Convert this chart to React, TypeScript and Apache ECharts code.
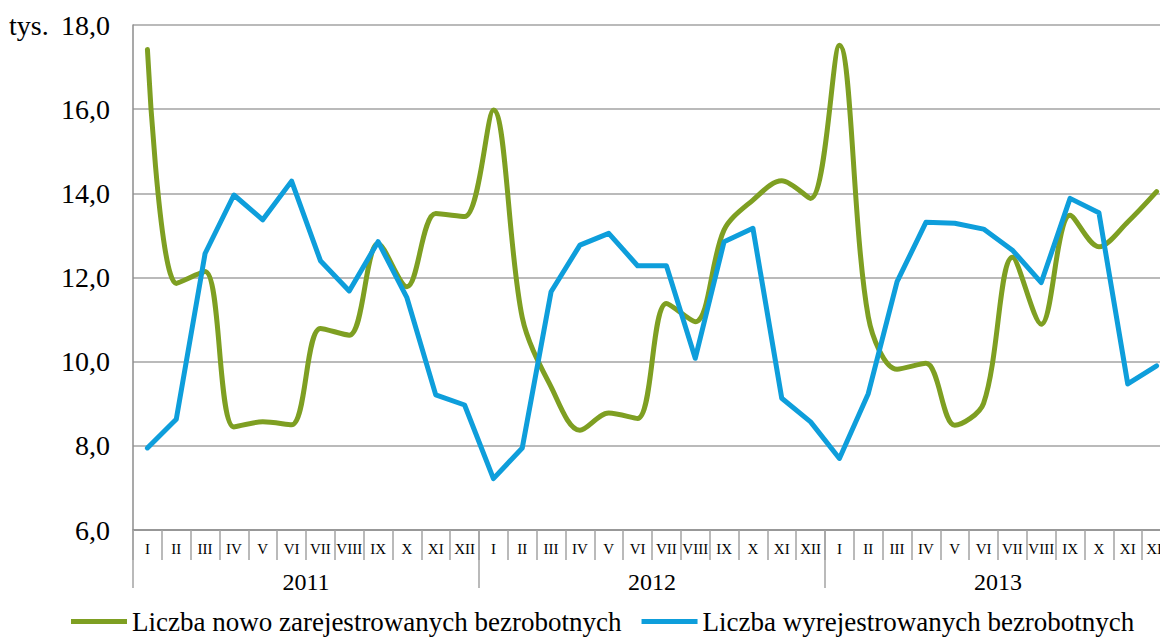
import React, { useEffect, useRef } from "react";
import * as echarts from "echarts";

const months = ["I","II","III","IV","V","VI","VII","VIII","IX","X","XI","XII"];
const years = ["2011", "2012", "2013"];
const monthLabels: string[] = years.flatMap(() => months);

const seriesNames = [
  "Liczba nowo zarejestrowanych bezrobotnych",
  "Liczba wyrejestrowanych bezrobotnych",
];

const newlyRegistered = [
  17.42, 11.86, 12.14, 8.45, 8.57, 8.5, 10.79, 10.63, 12.81, 11.78, 13.52, 13.45,
  15.98, 11.05, 9.4, 8.37, 8.78, 8.65, 11.38, 10.95, 13.13, 13.84, 14.3, 13.88,
  17.52, 11.07, 9.82, 9.96, 8.49, 9.01, 12.48, 10.89, 13.48, 12.73, 13.32, 14.04,
];

const deregistered = [
  7.95, 8.63, 12.57, 13.96, 13.37, 14.29, 12.4, 11.68, 12.85, 11.52, 9.21, 8.97,
  7.22, 7.95, 11.66, 12.77, 13.05, 12.28, 12.28, 10.08, 12.85, 13.17, 9.13, 8.57,
  7.7, 9.24, 11.9, 13.31, 13.29, 13.15, 12.65, 11.88, 13.88, 13.54, 9.47, 9.9,
];

const unitLabel = "tys.";

const FONT = "Liberation Serif, Times New Roman, serif";
const GREEN = "#7E9F22";
const BLUE = "#0E9EDB";
const GRID = "#a3a3a3";
const AXIS = "#8c8c8c";

export default function App() {
  const ref = useRef<HTMLDivElement>(null);
  useEffect(() => {
    document.body.style.margin = "0";
    if (!ref.current) return;
    const chart = echarts.init(ref.current, null, { renderer: "svg" });
    chart.setOption({
      animation: false,
      backgroundColor: "#ffffff",
      textStyle: { fontFamily: FONT },
      grid: { left: 133, top: 25, width: 1038, height: 505, containLabel: false },
      graphic: [
        {
          type: "text",
          left: 9,
          top: 11,
          style: { text: unitLabel, fontSize: 28, fontFamily: FONT, fill: "#000" },
        },
      ],
      legend: {
        left: 71,
        top: 608,
        padding: 0,
        icon: "rect",
        itemWidth: 56,
        itemHeight: 5,
        itemGap: 20,
        textStyle: { fontSize: 27, fontFamily: FONT, color: "#000" },
        data: seriesNames,
      },
      xAxis: [
        {
          type: "category",
          data: monthLabels,
          boundaryGap: true,
          axisLine: { show: true, lineStyle: { color: AXIS, width: 1.5 } },
          axisTick: { show: true, interval: 0, length: 30, lineStyle: { color: GRID, width: 1.5 } },
          axisLabel: { interval: 0, fontSize: 15, fontFamily: FONT, color: "#000", margin: 11 },
          splitLine: { show: false },
        },
        {
          type: "category",
          data: years,
          position: "bottom",
          boundaryGap: true,
          axisLine: { show: false },
          axisTick: { show: true, interval: 0, length: 58, lineStyle: { color: GRID, width: 1.5 } },
          axisLabel: { interval: 0, fontSize: 24, fontFamily: FONT, color: "#000", margin: 40 },
          splitLine: { show: false },
        },
      ],
      yAxis: {
        type: "value",
        min: 6,
        max: 18,
        interval: 2,
        axisLine: { show: true, lineStyle: { color: AXIS, width: 1.5 } },
        axisTick: { show: false },
        axisLabel: {
          fontSize: 28,
          fontFamily: FONT,
          color: "#000",
          margin: 23,
          formatter: (v: number) => v.toFixed(1).replace(".", ","),
        },
        splitLine: { show: true, lineStyle: { color: GRID, width: 1.5 } },
      },
      series: [
        {
          name: seriesNames[0],
          type: "line",
          data: newlyRegistered,
          smooth: 0.33,
          showSymbol: false,
          symbol: "none",
          itemStyle: { color: GREEN },
          lineStyle: { color: GREEN, width: 5, cap: "round", join: "round" },
        },
        {
          name: seriesNames[1],
          type: "line",
          data: deregistered,
          smooth: false,
          showSymbol: false,
          symbol: "none",
          itemStyle: { color: BLUE },
          lineStyle: { color: BLUE, width: 5, cap: "round", join: "round" },
        },
      ],
    });
    return () => chart.dispose();
  }, []);
  return (
    <div style={{ width: 1160, height: 637, overflow: "hidden", position: "relative" }}>
      <div ref={ref} style={{ width: 1190, height: 637 }} />
    </div>
  );
}
